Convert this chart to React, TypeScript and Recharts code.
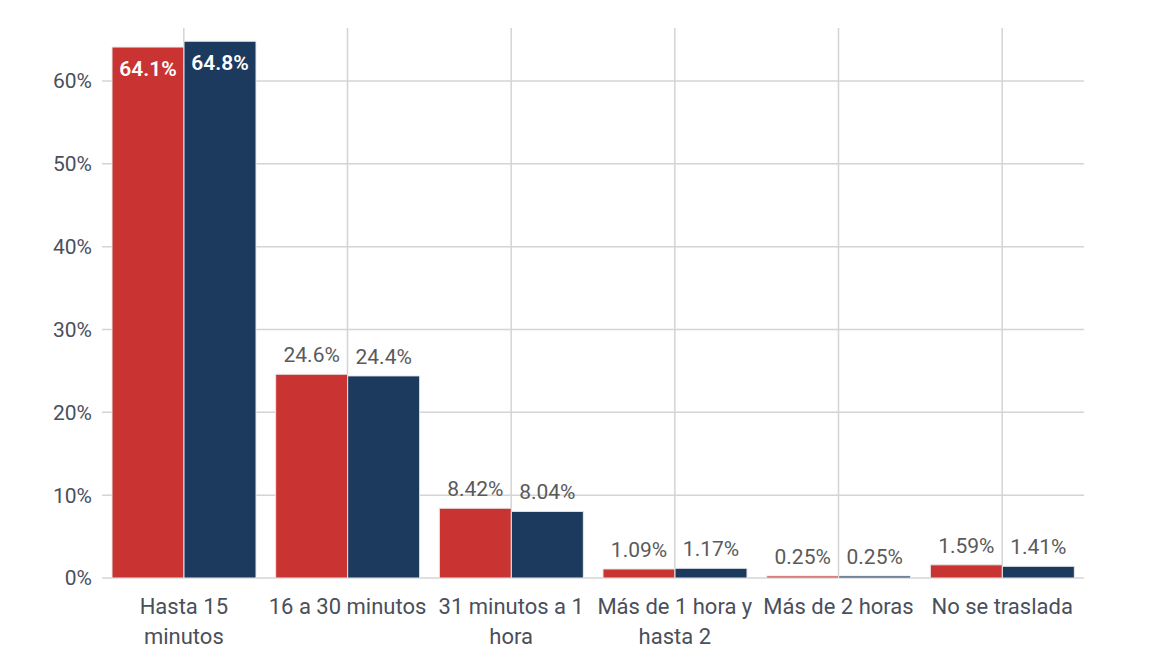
import { BarChart, Bar, XAxis, YAxis, CartesianGrid, LabelList } from "recharts"

const categories = [
  "Hasta 15\nminutos",
  "16 a 30 minutos",
  "31 minutos a 1\nhora",
  "Más de 1 hora y\nhasta 2",
  "Más de 2 horas",
  "No se traslada",
]
const serieA = [64.1, 24.6, 8.42, 1.09, 0.25, 1.59]
const serieB = [64.8, 24.4, 8.04, 1.17, 0.25, 1.41]
const yTicks = [0, 10, 20, 30, 40, 50, 60]

const data = categories.map((c, i) => ({ cat: c, a: serieA[i], b: serieB[i] }))

const FONT = "Roboto, 'Open Sans', sans-serif"

function XTick(props: any) {
  const { x, y, payload } = props
  const lines = String(payload.value).split("\n")
  return (
    <g transform={`translate(${x},${y})`}>
      {lines.map((l: string, i: number) => (
        <text key={i} x={0} y={0} dy={36 + i * 30} textAnchor="middle" fill="#4a4f5c" fontSize={22} fontFamily={FONT}>
          {l}
        </text>
      ))}
    </g>
  )
}

function BarLabel(props: any) {
  const { x, y, width, value } = props
  const inside = value > 50
  return (
    <text
      x={x + width / 2}
      y={inside ? y + 29 : y - 12}
      textAnchor="middle"
      fill={inside ? "#ffffff" : "#5a5a5a"}
      fontSize={21}
      fontWeight={inside ? 600 : 400}
      fontFamily={FONT}
    >
      {`${value}%`}
    </text>
  )
}

export default function App() {
  return (
    <div style={{ width: 1144, height: 640, fontFamily: FONT }}>
      <BarChart
        width={1144}
        height={640}
        data={data}
        margin={{ top: 20, right: 68, left: 0, bottom: 0 }}
        barCategoryGap={10}
        barGap={0}
      >
        <CartesianGrid stroke="#d4d4d4" strokeWidth={1.5} syncWithTicks />
        <XAxis
          dataKey="cat"
          height={70}
          axisLine={false}
          tickLine={false}
          tickSize={0}
          tickMargin={0}
          interval={0}
          tick={<XTick />}
        />
        <YAxis
          width={94}
          domain={[0, 66.4]}
          ticks={yTicks}
          axisLine={false}
          tickLine={false}
          tickSize={0}
          tickMargin={10}
          tickFormatter={(v) => `${v}%`}
          tick={{ fill: "#4a4f5c", fontSize: 21, fontFamily: FONT }}
        />
        <Bar dataKey="a" fill="#c93332" stroke="#e8e8e8" strokeWidth={1} isAnimationActive={false}>
          <LabelList dataKey="a" content={<BarLabel />} />
        </Bar>
        <Bar dataKey="b" fill="#1c3a5e" stroke="#e8e8e8" strokeWidth={1} isAnimationActive={false}>
          <LabelList dataKey="b" content={<BarLabel />} />
        </Bar>
      </BarChart>
    </div>
  )
}
